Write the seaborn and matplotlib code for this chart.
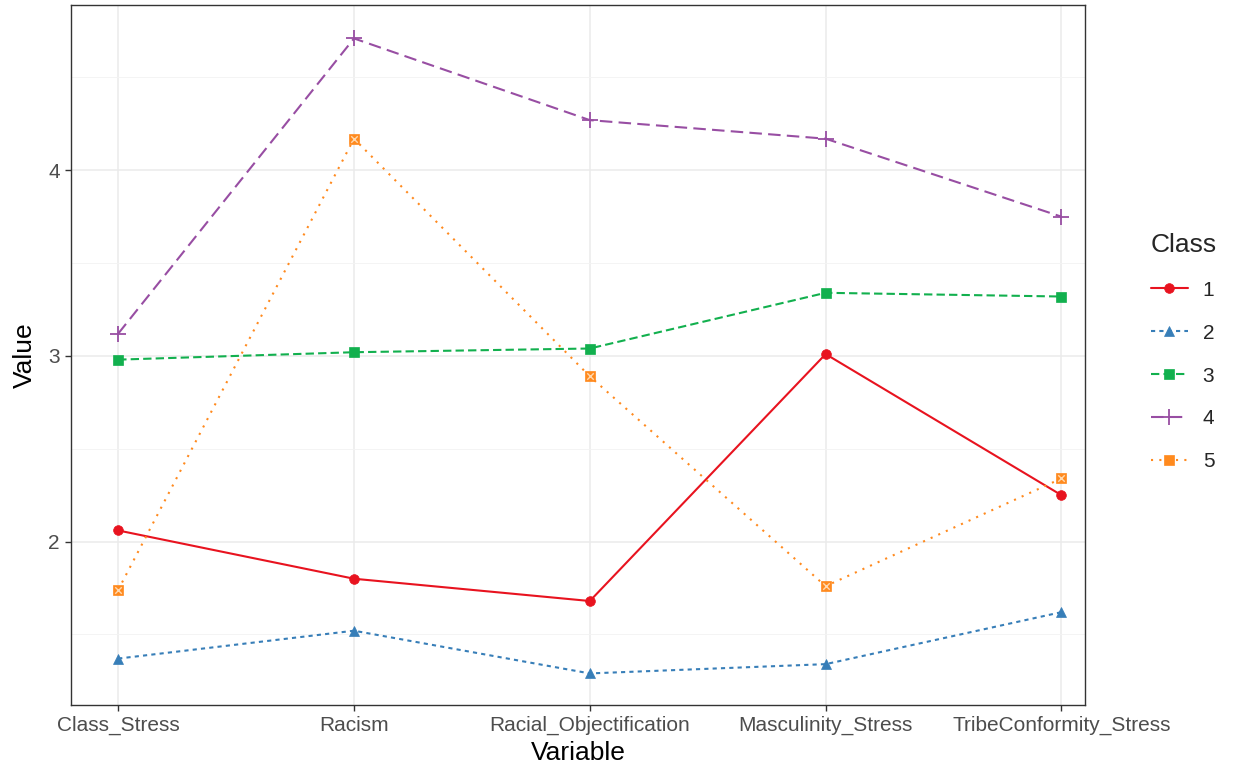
import matplotlib
matplotlib.use("Agg")
import matplotlib.pyplot as plt
import pandas as pd
import seaborn as sns
from matplotlib.ticker import MultipleLocator

variables = ["Class_Stress", "Racism", "Racial_Objectification",
             "Masculinity_Stress", "TribeConformity_Stress"]
classes = ["1", "2", "3", "4", "5"]
class1 = [2.06, 1.80, 1.68, 3.01, 2.25]
class2 = [1.37, 1.52, 1.29, 1.34, 1.62]
class3 = [2.98, 3.02, 3.04, 3.34, 3.32]
class4 = [3.12, 4.71, 4.27, 4.17, 3.75]
class5 = [1.74, 4.17, 2.89, 1.76, 2.34]

rows = []
for c, vals in zip(classes, [class1, class2, class3, class4, class5]):
    for v, val in zip(variables, vals):
        rows.append({"Variable": v, "Value": val, "Class": c})
df = pd.DataFrame(rows)
df["x"] = df["Variable"].map({v: i for i, v in enumerate(variables)})

sns.set_theme(style="white")
plt.rcParams["font.family"] = ["Liberation Sans", "DejaVu Sans"]

palette = {"1": "#E8131F", "2": "#377EB8", "3": "#12B04E", "4": "#984EA3", "5": "#FF8A1E"}
dashes = {"1": None, "2": (2, 2), "3": (4, 2), "4": (6, 3), "5": (1, 3)}
markers = {"1": "o", "2": "^", "3": "s", "4": "+", "5": "s"}

fig = plt.figure(figsize=(12.33, 7.72), dpi=100)
ax = fig.add_axes([0.0576, 0.0868, 0.8224, 0.9067])

handles = []
for c in classes:
    d = df[df["Class"] == c]
    kw = dict(color=palette[c], marker=markers[c], markersize=7 if c != "4" else 12,
              linewidth=1.5, markeredgewidth=1.3 if c == "4" else 0.5,
              markeredgecolor=palette[c], ax=ax)
    if dashes[c]:
        kw["dashes"] = dashes[c]
    sns.lineplot(data=d, x="x", y="Value", **kw)
    h = ax.get_lines()[-1]
    handles.append(h)

# boxed x for class 5
d5 = df[df["Class"] == "5"]
ax.scatter(d5["x"], d5["Value"], marker="x", s=22, color="#FFD9B0", linewidths=1, zorder=5)

ax.set_xlim(-0.2, 4.1)
ax.set_ylim(1.12, 4.89)
ax.set_xticks(range(len(variables)))
ax.set_xticklabels(variables)
ax.yaxis.set_major_locator(MultipleLocator(1))
ax.yaxis.set_minor_locator(MultipleLocator(0.5))
ax.grid(which="major", color="#EBEBEB", linewidth=1.1)
ax.grid(which="minor", axis="y", color="#F3F3F3", linewidth=0.6)
ax.set_axisbelow(True)
for s in ax.spines.values():
    s.set_color("#333333")
    s.set_linewidth(1.0)
ax.tick_params(axis="both", which="major", length=4, width=1, color="#333333",
               labelsize=15, labelcolor="#4D4D4D", direction="out", left=True, bottom=True,
               pad=4)
ax.tick_params(axis="y", which="minor", length=0)
ax.set_xlabel("Variable", fontsize=19, color="black", labelpad=4)
ax.set_ylabel("Value", fontsize=19, color="black", labelpad=8)

leg = fig.legend(handles, classes, title="Class", loc="center left",
                 bbox_to_anchor=(0.918, 0.544), frameon=False, fontsize=15,
                 title_fontsize=19, handlelength=1.8, handletextpad=0.7,
                 labelspacing=1.15, alignment="left")

fig.savefig("out.png", dpi=100)
